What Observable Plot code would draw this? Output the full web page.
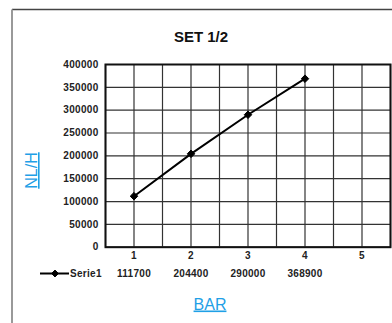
<!DOCTYPE html>
<html>
<head>
<meta charset="utf-8">
<script src="https://cdn.jsdelivr.net/npm/d3@7"></script>
<script src="https://cdn.jsdelivr.net/npm/@observablehq/plot@0.6"></script>
<style>
  html, body { margin: 0; padding: 0; background: #fff; }
  #chart svg { display: block; }
</style>
</head>
<body>
<div id="chart"></div>
<script>
const categories = [1, 2, 3, 4, 5];
const serieValues = [111700, 204400, 290000, 368900];
const yTicks = [0, 50000, 100000, 150000, 200000, 250000, 300000, 350000, 400000];
const seriesName = "Serie1";
const titleText = "SET 1/2";
const yLabel = "NL/H";
const xLabel = "BAR";

const data = serieValues.map((v, i) => ({cat: categories[i], value: v}));
// vertical gridlines at category boundaries and centres
const xGrid = [];
categories.forEach(c => { xGrid.push(c - 0.5, c); });
xGrid.push(categories[categories.length - 1] + 0.5);

const font = "'Liberation Sans', Arial, sans-serif";
const blue = "#1fa0e6";
const tickStyle = {fontWeight: "bold", fontSize: 10, fill: "#222"};

const svg = Plot.plot({
  width: 392,
  height: 323,
  marginTop: 64,
  marginRight: 2,
  marginBottom: 76.3,
  marginLeft: 105,
  style: {fontFamily: font, background: "#fff", overflow: "visible", letterSpacing: "0.3px"},
  x: {type: "linear", domain: [categories[0] - 0.5, categories[categories.length - 1] + 0.5]},
  y: {type: "linear", domain: [yTicks[0], yTicks[yTicks.length - 1]]},
  marks: [
    Plot.ruleX(xGrid, {stroke: "#333", strokeWidth: 1.2}),
    Plot.ruleY(yTicks, {stroke: "#333", strokeWidth: 1.2}),
    Plot.frame({stroke: "#111", strokeWidth: 2}),
    Plot.axisY(yTicks, {tickSize: 0, tickPadding: 7, tickFormat: d3.format("d"), label: null, ...tickStyle}),
    Plot.axisX(categories, {tickSize: 0, tickPadding: 5, tickFormat: d => String(d), label: null, ...tickStyle}),
    Plot.line(data, {x: "cat", y: "value", stroke: "#000", strokeWidth: 2}),
    Plot.dot(data, {x: "cat", y: "value", symbol: "diamond2", r: 3.4, fill: "#000", stroke: "#000", strokeWidth: 1}),
    Plot.text(data, {x: "cat", text: d => String(d.value), frameAnchor: "bottom", lineAnchor: "middle", dy: 26.8, ...tickStyle})
  ]
});
document.getElementById("chart").appendChild(svg);

const s = d3.select(svg);
// outer frame (top and left edges)
s.append("path").attr("d", "M12,9.5H392").attr("stroke", "#444").attr("stroke-width", 1.5).attr("fill", "none");
s.append("path").attr("d", "M12,9.5V323").attr("stroke", "#999").attr("stroke-width", 2).attr("fill", "none");
// title
s.append("text").attr("x", 201).attr("y", 41.5).attr("text-anchor", "middle").attr("letter-spacing", 0)
  .attr("font-family", font).attr("font-size", 15).attr("font-weight", "bold").attr("fill", "#111").text(titleText);
// axis titles
s.append("text").attr("transform", "translate(37,170.5) rotate(-90)").attr("text-anchor", "middle").attr("letter-spacing", 0)
  .attr("font-family", font).attr("font-size", 16).attr("fill", blue).attr("text-decoration", "underline").text(yLabel);
s.append("text").attr("x", 210).attr("y", 309.5).attr("text-anchor", "middle").attr("letter-spacing", 0)
  .attr("font-family", font).attr("font-size", 16).attr("fill", blue).attr("text-decoration", "underline").text(xLabel);
// legend
s.append("path").attr("d", "M40,273.5H69").attr("stroke", "#000").attr("stroke-width", 2);
s.append("path").attr("transform", "translate(55,273.5)").attr("d", d3.symbol(d3.symbolDiamond2, 30)()).attr("fill", "#000").attr("stroke", "#000");
s.append("text").attr("x", 70).attr("y", 273.5).attr("dy", "0.35em").attr("text-anchor", "start")
  .attr("font-family", font).attr("font-size", 10).attr("font-weight", "bold").attr("fill", "#222").text(seriesName);
</script>
</body>
</html>
